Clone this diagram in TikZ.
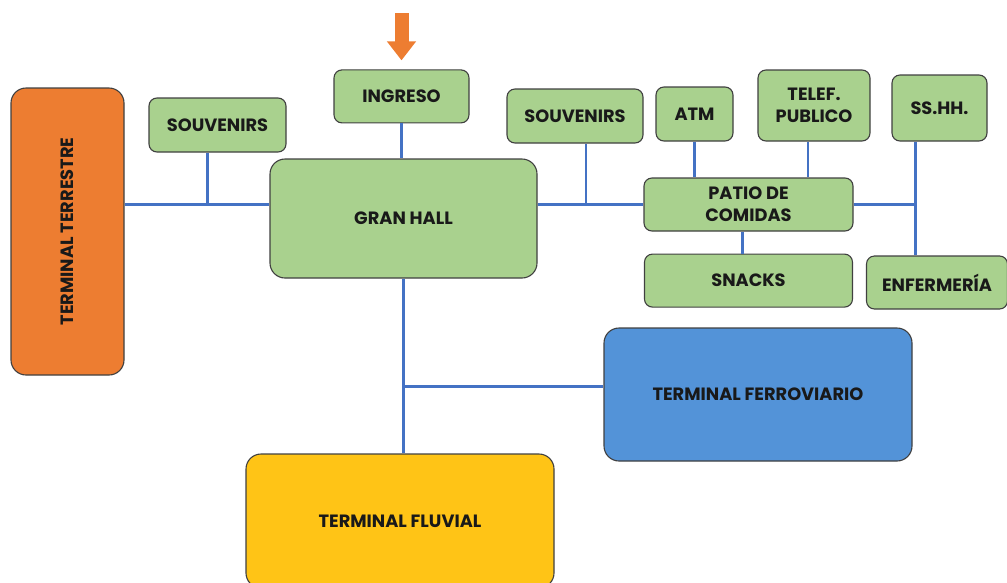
\documentclass[tikz,border=0pt]{standalone}
\usepackage{fontspec}
\setmainfont{Poppins}
\usepackage{tikz}
\usetikzlibrary{arrows.meta, positioning, calc}

\definecolor{verdeArea}{HTML}{A9D18E}
\definecolor{naranjaT}{HTML}{ED7D31}
\definecolor{azulT}{HTML}{5393D8}
\definecolor{amarilloT}{HTML}{FFC416}
\definecolor{azulLinea}{HTML}{4472C4}

\begin{document}
\begin{tikzpicture}[
    x=1pt, y=-1pt,
    node distance=22pt and 20pt,
    every node/.style={font=\bfseries\fontsize{17.8}{22}\selectfont, text=black!90},
    area/.style={rectangle, rounded corners=8pt, draw=black!75, line width=1.1pt, fill=verdeArea, align=center, inner sep=2pt},
    terminal/.style={rectangle, rounded corners=15pt, draw=black!75, line width=1.1pt, align=center},
    enlace/.style={line width=2.8pt, azulLinea},
    flechaIngreso/.style={-{Triangle[width=28pt, length=19pt]}, line width=14pt, naranjaT, shorten >=9pt}
]
\useasboundingbox (0,0) rectangle (1007,582);
\clip (0,0) rectangle (1007,582);

% ============== Terminales ==============
\node[terminal, fill=naranjaT, minimum width=113pt, minimum height=287pt] (terrestre) at (67.5,231.5) {\rotatebox{90}{TERMINAL TERRESTRE}};
\node[terminal, fill=azulT, minimum width=308pt, minimum height=133pt] (ferroviario) at (758,394.5) {TERMINAL FERROVIARIO};
\node[terminal, fill=amarilloT, minimum width=308pt, minimum height=134pt] (fluvial) at (400,521) {TERMINAL FLUVIAL};

% ============== Gran Hall e ingreso ==============
\node[area, rounded corners=15pt, minimum width=267pt, minimum height=119pt] (granHall) at (403.5,218.5) {GRAN HALL};
\node[area, minimum width=135pt, minimum height=53pt, above=35pt of granHall, xshift=-2pt] (ingreso) {INGRESO};
\node[area, minimum width=137pt, minimum height=54pt] (souvIzq) at (217.5,125) {SOUVENIRS};

% ============== Patio de comidas y servicios ==============
\node[area, minimum width=209pt, minimum height=53pt] (patio) at (748.5,204.5) {PATIO DE\\COMIDAS};
\node[area, minimum width=208pt, minimum height=53pt, below=22pt of patio] (snacks) {SNACKS};
\node[area, minimum width=136pt, minimum height=54pt] (souvDer) at (575,116) {SOUVENIRS};
\node[area, minimum width=77pt, minimum height=54pt] (atm) at (694.5,114) {ATM};
\node[area, minimum width=112pt, minimum height=71pt] (telef) at (814,105.5) {TELEF.\\PUBLICO};
\node[area, minimum width=95pt, minimum height=66pt] (sshh) at (939.5,108) {SS.HH.};
\node[area, minimum width=141pt, minimum height=53pt] (enfermeria) at (937,282.5) {ENFERMERÍA};

% ============== Flecha de ingreso ==============
\coordinate (entrada) at ([yshift=56pt]ingreso.north);
\draw[flechaIngreso] (entrada) -- (ingreso.north);

% ============== Conexiones ==============
\draw[enlace] (terrestre.east |- patio.west) -- (granHall.west |- patio.west);
\draw[enlace] ([xshift=-10pt]souvIzq.south) -- ([xshift=-10pt]souvIzq.south |- patio.west);
\draw[enlace] (ingreso.south) -- (ingreso.south |- granHall.north);
\draw[enlace] (granHall.east |- patio.west) -- (patio.west);
\draw[enlace] ([xshift=11pt]souvDer.south) -- ([xshift=11pt]souvDer.south |- patio.west);
\draw[enlace] (atm.south) -- (atm.south |- patio.north);
\draw[enlace] ([xshift=-6pt]telef.south) -- ([xshift=-6pt]telef.south |- patio.north);
\draw[enlace] ([xshift=-6pt]patio.south) -- ([xshift=-6pt]patio.south |- snacks.north);

% bus de SS.HH. y enfermeria
\draw[enlace] ([xshift=-24pt]sshh.south) -- ([xshift=-24pt]sshh.south |- enfermeria.north);
\draw[enlace] (patio.east) -- ([xshift=-24pt]sshh.south |- patio.east);

% ============== Hacia los terminales ==============
\coordinate (ferroEntrada) at ([yshift=8pt]ferroviario.west);
\coordinate (cruce) at (granHall.south |- ferroEntrada);
\draw[enlace] (granHall.south) -- (granHall.south |- fluvial.north);
\draw[enlace] (cruce) -- (ferroEntrada);
\end{tikzpicture}
\end{document}
